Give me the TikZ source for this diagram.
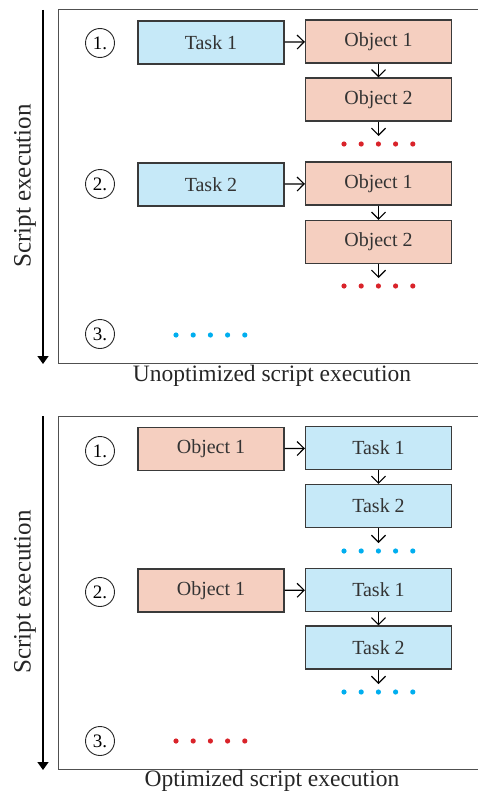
\documentclass[tikz,border=0pt]{standalone}
\usepackage{fontspec}
\setmainfont{Liberation Serif}
\usetikzlibrary{arrows.meta}
\definecolor{taskblue}{HTML}{C6E9F8}
\definecolor{objpink}{HTML}{F5CFC0}
\definecolor{edgegray}{HTML}{3A3A3A}
\definecolor{dotred}{HTML}{D9232A}
\definecolor{dotblue}{HTML}{00AEEF}
\definecolor{framegray}{HTML}{505050}
\tikzset{
  box/.style={draw=edgegray, line width=1.1pt, minimum width=146pt, minimum height=43pt, inner sep=0pt, text=black!80, font=\fontsize{20}{22}\selectfont},
  taskbox/.style={box, fill=taskblue},
  objbox/.style={box, fill=objpink},
  numcirc/.style={draw=black!85, line width=0.9pt, circle, minimum size=29pt, inner sep=0pt, font=\fontsize{19}{20}\selectfont},
  conn/.style={draw=black, line width=1.2pt, -{Straight Barb[length=7pt,width=14pt,line width=1.2pt]}},
  framel/.style={draw=framegray, line width=1pt},
  axis/.style={draw=black, line width=1.4pt, -{Triangle[length=8pt,width=11pt]}},
  caption/.style={font=\fontsize{23.5}{26}\selectfont, text=black!85},
  axislabel/.style={font=\fontsize{25}{27}\selectfont, text=black!85, rotate=90},
}
\newcommand{\dotrow}[4]{% name prefix, x0, y, color
  \foreach \i in {0,...,4} {
    \fill[#4] ({#2+17.2*\i},#3) circle (2.6pt);
  }
}
\begin{document}
\begin{tikzpicture}[x=1pt,y=-1pt]
\useasboundingbox (0,0) rectangle (478,792);

% ---------- top panel ----------
\draw[framel] (480,10) -- (58,10) -- (58,363) -- (480,363);
\coordinate (ta0) at (43,10);
\coordinate (ta1) at (43,364);
\draw[axis] (ta0) -- (ta1);
\node[axislabel] (tal) at (25,186) {Script execution};
\node[caption] (tcap) at (272,376) {Unoptimized script execution};

\node[numcirc] (tc1) at (100,43) {1.};
\node[numcirc] (tc2) at (100,184) {2.};
\node[numcirc] (tc3) at (100,334) {3.};

\node[taskbox] (tt1) at (211,42.5) {Task 1};
\node[objbox] (to11) at (378.5,41.5) {Object 1};
\node[objbox] (to12) at (378.5,99.5) {Object 2};
\coordinate (tdot1) at (378.5,136);
\draw[conn] (tt1) -- (to11);
\draw[conn] (to11) -- (to12);
\draw[conn] (to12) -- (tdot1);
\dotrow{a}{344}{144}{dotred}

\node[taskbox] (tt2) at (211,184.5) {Task 2};
\node[objbox] (to21) at (378.5,183.5) {Object 1};
\node[objbox] (to22) at (378.5,242) {Object 2};
\coordinate (tdot2) at (378.5,278);
\draw[conn] (tt2) -- (to21);
\draw[conn] (to21) -- (to22);
\draw[conn] (to22) -- (tdot2);
\dotrow{b}{344}{286}{dotred}

\dotrow{c}{176}{335}{dotblue}

% ---------- bottom panel ----------
\draw[framel] (480,416) -- (58,416) -- (58,769) -- (480,769);
\coordinate (ba0) at (43,416);
\coordinate (ba1) at (43,770);
\draw[axis] (ba0) -- (ba1);
\node[axislabel] (bal) at (25,592) {Script execution};
\node[caption] (bcap) at (272,781) {Optimized script execution};

\node[numcirc] (bc1) at (100,451) {1.};
\node[numcirc] (bc2) at (100,592) {2.};
\node[numcirc] (bc3) at (100,741) {3.};

\node[objbox] (bo1) at (211,449) {Object 1};
\node[taskbox] (bt11) at (378.5,448) {Task 1};
\node[taskbox] (bt12) at (378.5,506) {Task 2};
\coordinate (bdot1) at (378.5,543);
\draw[conn] (bo1) -- (bt11);
\draw[conn] (bt11) -- (bt12);
\draw[conn] (bt12) -- (bdot1);
\dotrow{d}{344}{551}{dotblue}

\node[objbox] (bo2) at (211,590.5) {Object 1};
\node[taskbox] (bt21) at (378.5,590) {Task 1};
\node[taskbox] (bt22) at (378.5,647.5) {Task 2};
\coordinate (bdot2) at (378.5,684);
\draw[conn] (bo2) -- (bt21);
\draw[conn] (bt21) -- (bt22);
\draw[conn] (bt22) -- (bdot2);
\dotrow{e}{344}{692}{dotblue}

\dotrow{f}{176}{741}{dotred}
\end{tikzpicture}
\end{document}
